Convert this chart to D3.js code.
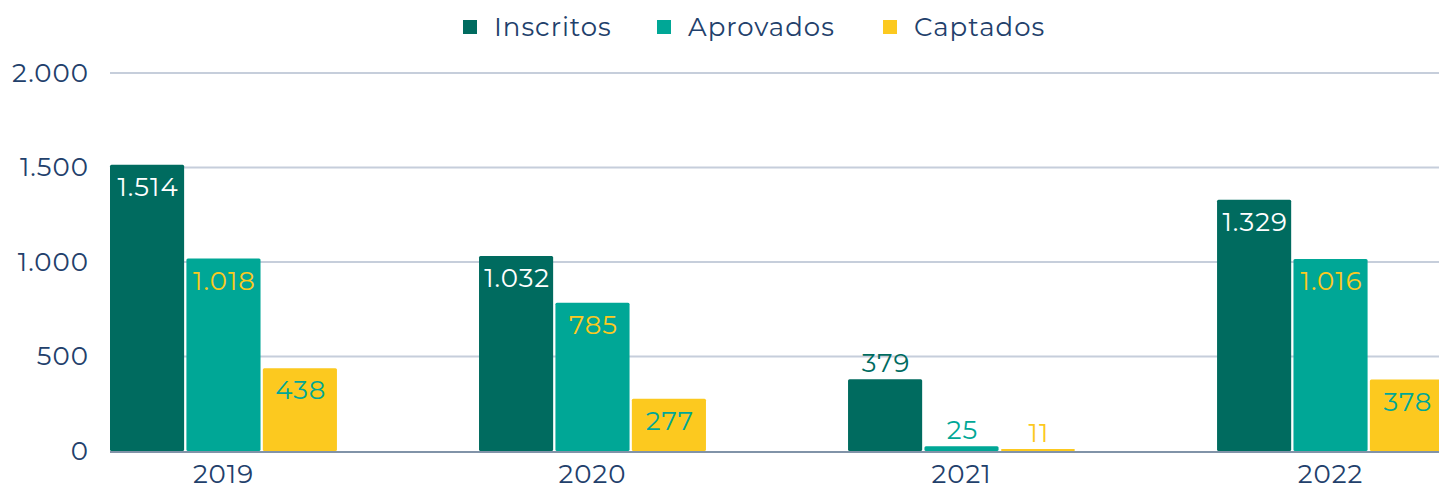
<!DOCTYPE html>
<html>
<head>
<meta charset="utf-8">
<script src="https://cdn.jsdelivr.net/npm/d3@7"></script>
<style>
    body { margin: 0; background: #fff; }
    text { font-family: "Montserrat", "Noto Sans", sans-serif; letter-spacing: 1px; }
</style>
</head>
<body>
<div id="chart-area"></div>
<script>
// data
var years = ["2019", "2020", "2021", "2022"];
var seriesNames = ["Inscritos", "Aprovados", "Captados"];
var inscritos = [1514, 1032, 379, 1329];
var aprovados = [1018, 785, 25, 1016];
var captados = [438, 277, 11, 378];
var yTicks = [0, 500, 1000, 1500, 2000];
var labelsAbove = ["2021"];

var colors = { Inscritos: "#006b5f", Aprovados: "#00a796", Captados: "#fcc91f" };
var insideText = { Inscritos: "#ffffff", Aprovados: "#fcc91f", Captados: "#00a796" };
var textColor = "#22406b";

var W = 1439, H = 493;
var margin = { left: 110, top: 73, bottom: 42 };
var height = H - margin.top - margin.bottom;

var svg = d3.select("#chart-area")
    .append("svg")
    .attr("width", W)
    .attr("height", H);

var rows = years.map(function (y, i) {
    return { year: y, Inscritos: inscritos[i], Aprovados: aprovados[i], Captados: captados[i] };
});

var x0 = d3.scaleBand()
    .domain(years)
    .range([margin.left, 1444])
    .paddingInner(0.385)
    .paddingOuter(0);

var x1 = d3.scaleBand()
    .domain(seriesNames)
    .range([0, x0.bandwidth()])
    .paddingInner(0.03);

var y = d3.scaleLinear()
    .domain([0, 2000])
    .range([margin.top + height, margin.top]);

var fmt = d3.formatLocale({ decimal: ",", thousands: ".", grouping: [3], currency: ["", ""] }).format(",d");

// grid lines
svg.append("g")
    .selectAll("line")
    .data(yTicks.slice(1))
    .enter()
    .append("line")
    .attr("x1", margin.left)
    .attr("x2", W)
    .attr("y1", function (d) { return y(d); })
    .attr("y2", function (d) { return y(d); })
    .attr("stroke", "#c6cedb")
    .attr("stroke-width", 2);

// base line (under the bars)
svg.append("line")
    .attr("x1", margin.left)
    .attr("x2", W)
    .attr("y1", y(0) + 1)
    .attr("y2", y(0) + 1)
    .attr("stroke", "#8193a8")
    .attr("stroke-width", 2);

// y axis labels
var yAxisCall = d3.axisLeft(y).tickValues(yTicks).tickFormat(fmt).tickSize(0).tickPadding(21);
var yAxis = svg.append("g")
    .attr("transform", "translate(" + margin.left + ",0)")
    .call(yAxisCall);
yAxis.select(".domain").remove();
yAxis.selectAll("text")
    .attr("font-size", "26px")
    .attr("fill", textColor)
    .style("font-family", "\"Montserrat\", \"Noto Sans\", sans-serif");

// bars
var groups = svg.append("g")
    .selectAll("g")
    .data(rows)
    .enter()
    .append("g")
    .attr("transform", function (d) { return "translate(" + x0(d.year) + ",0)"; });

var cells = groups.selectAll("g")
    .data(function (d) {
        return seriesNames.map(function (s) { return { year: d.year, key: s, value: d[s] }; });
    })
    .enter()
    .append("g");

cells.append("rect")
    .attr("x", function (d) { return x1(d.key); })
    .attr("y", function (d) { return y(d.value); })
    .attr("width", x1.bandwidth())
    .attr("height", function (d) { return y(0) - y(d.value); })
    .attr("rx", 1.5)
    .attr("fill", function (d) { return colors[d.key]; });

cells.append("text")
    .attr("x", function (d) { return x1(d.key) + x1.bandwidth() / 2 + 1; })
    .attr("y", function (d) {
        return labelsAbove.indexOf(d.year) >= 0 ? y(d.value) - 7 : y(d.value) + 31;
    })
    .attr("text-anchor", "middle")
    .attr("font-size", "26px")
    .attr("fill", function (d) {
        return labelsAbove.indexOf(d.year) >= 0 ? colors[d.key] : insideText[d.key];
    })
    .text(function (d) { return fmt(d.value); });

// x axis
var xAxisCall = d3.axisBottom(x0).tickSize(0).tickPadding(14);
var xAxis = svg.append("g")
    .attr("transform", "translate(0," + y(0) + ")")
    .call(xAxisCall);
xAxis.select(".domain").remove();
xAxis.selectAll("text")
    .attr("font-size", "26px")
    .attr("fill", textColor)
    .style("font-family", "\"Montserrat\", \"Noto Sans\", sans-serif");

// legend
var legendX = [463, 657, 883];
var legend = svg.append("g")
    .selectAll("g")
    .data(seriesNames)
    .enter()
    .append("g")
    .attr("transform", function (d, i) { return "translate(" + legendX[i] + ",0)"; });

legend.append("rect")
    .attr("x", 0)
    .attr("y", 20)
    .attr("width", 14)
    .attr("height", 14)
    .attr("fill", function (d) { return colors[d]; });

legend.append("text")
    .attr("x", 31)
    .attr("y", 36)
    .attr("font-size", "26px")
    .attr("fill", textColor)
    .text(function (d) { return d; });
</script>
</body>
</html>
